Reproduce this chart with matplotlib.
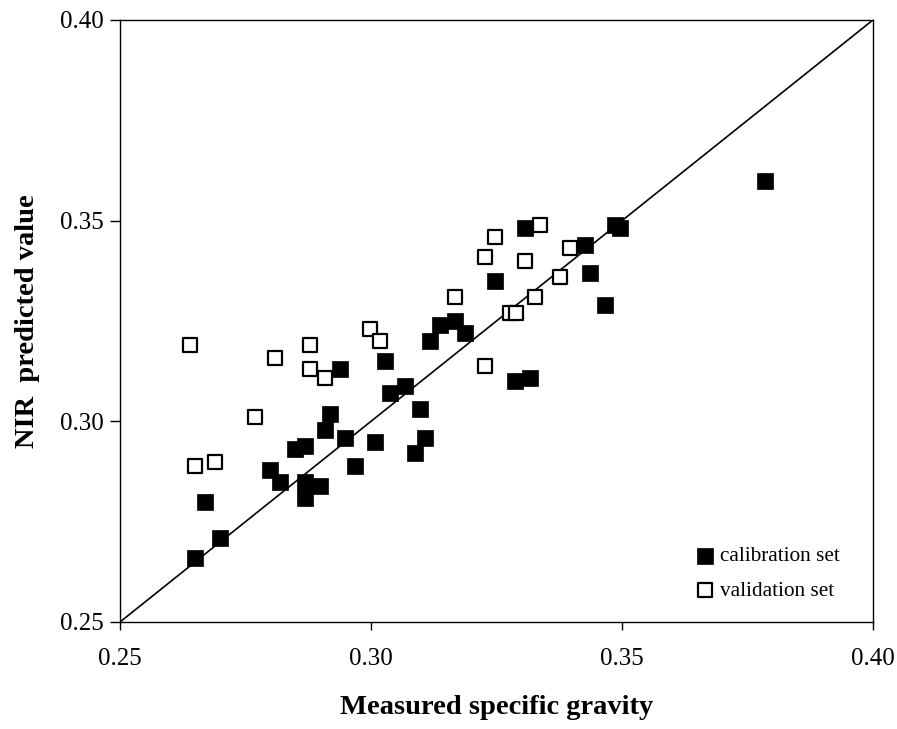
import numpy as np
import matplotlib
matplotlib.use("Agg")
import matplotlib.pyplot as plt

# calibration set (filled squares)
cal_x = [0.2649, 0.2699, 0.2669, 0.2799, 0.2819, 0.2849, 0.2869, 0.2869, 0.2869,
         0.2898, 0.2908, 0.2918, 0.2938, 0.2948, 0.2968, 0.3008, 0.3028, 0.3038,
         0.3068, 0.3098, 0.3088, 0.3108, 0.3118, 0.3138, 0.3167, 0.3187, 0.3247,
         0.3307, 0.3486, 0.3496, 0.3426, 0.3436, 0.3466, 0.3287, 0.3317, 0.3784]
cal_y = [0.2659, 0.2709, 0.2800, 0.2879, 0.2850, 0.2930, 0.2939, 0.2850, 0.2808,
         0.2840, 0.2978, 0.3018, 0.3130, 0.2959, 0.2889, 0.2949, 0.3150, 0.3070,
         0.3089, 0.3030, 0.2920, 0.2959, 0.3200, 0.3240, 0.3250, 0.3219, 0.3350,
         0.3481, 0.3489, 0.3481, 0.3439, 0.3370, 0.3290, 0.3101, 0.3109, 0.3598]

# validation set (open squares)
val_x = [0.2639, 0.2649, 0.2689, 0.2769, 0.2809, 0.2878, 0.2878, 0.2908, 0.2998,
         0.3018, 0.3167, 0.3227, 0.3227, 0.3247, 0.3337, 0.3307, 0.3396, 0.3376,
         0.3327, 0.3277, 0.3289]
val_y = [0.3190, 0.2889, 0.2899, 0.3010, 0.3159, 0.3190, 0.3130, 0.3107, 0.3229,
         0.3199, 0.3309, 0.3139, 0.3410, 0.3460, 0.3489, 0.3400, 0.3431, 0.3359,
         0.3309, 0.3269, 0.3269]

ticks = [0.25, 0.30, 0.35, 0.40]
tick_labels = ["0.25", "0.30", "0.35", "0.40"]

plt.rcParams['font.family'] = ['Liberation Serif', 'DejaVu Serif']

fig = plt.figure(figsize=(8.97, 7.29), dpi=100)
ax = fig.add_axes([0.1338, 0.1468, 0.8394, 0.8258])

# 1:1 line
ax.plot([0.25, 0.40], [0.25, 0.40], color='black', lw=1.2, zorder=1)

ax.scatter(cal_x, cal_y, marker='s', s=122, c='black', edgecolors='black',
           linewidths=0.5, label='calibration set', zorder=3)
ax.scatter(val_x, val_y, marker='s', s=105, facecolors='white', edgecolors='black',
           linewidths=1.6, label='validation set', zorder=2)

ax.set_xlim(0.25, 0.40)
ax.set_ylim(0.25, 0.40)
ax.set_xticks(ticks)
ax.set_xticklabels(tick_labels)
ax.set_yticks(ticks)
ax.set_yticklabels(tick_labels)
ax.tick_params(axis='x', direction='out', length=6, width=1, labelsize=18, pad=13)
ax.tick_params(axis='y', direction='out', length=7, width=1, labelsize=18, pad=5)
for sp in ax.spines.values():
    sp.set_linewidth(1.0)

ax.set_xlabel('Measured specific gravity', fontsize=20.5, fontweight='bold', labelpad=18)
ax.set_ylabel('NIR  predicted value', fontsize=20.5, fontweight='bold', labelpad=14)

ax.legend(loc='lower left', bbox_to_anchor=(0.766, 0.035), frameon=False,
          fontsize=15.3, handlelength=0.8, handletextpad=0.3, borderpad=0,
          borderaxespad=0, labelspacing=0.7, markerscale=1.0)

fig.savefig('out.png', dpi=100)
